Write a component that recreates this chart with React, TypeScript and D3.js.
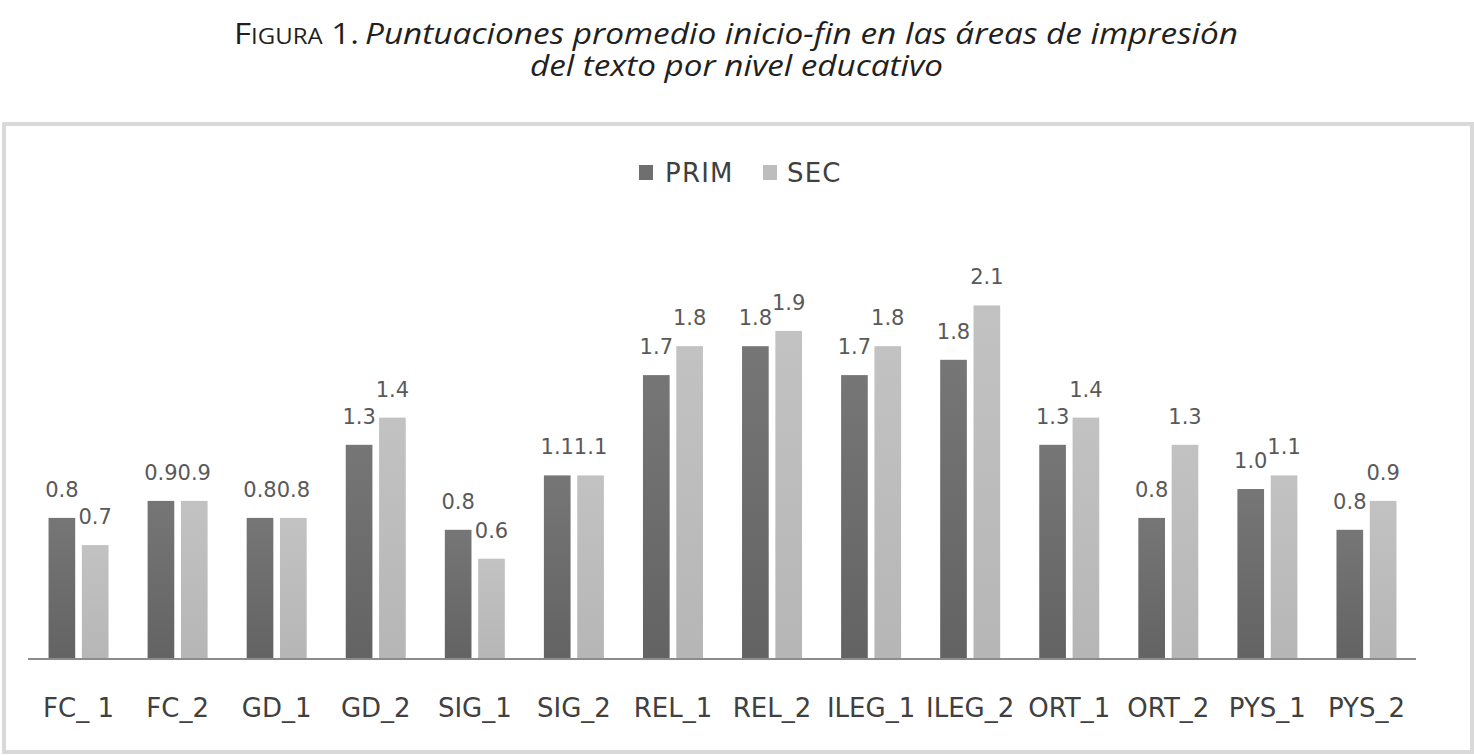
import React from "react";
import * as d3 from "d3";

const categories = ["FC_ 1", "FC_2", "GD_1", "GD_2", "SIG_1", "SIG_2", "REL_1", "REL_2", "ILEG_1", "ILEG_2", "ORT_1", "ORT_2", "PYS_1", "PYS_2"];
const seriesNames = ["PRIM", "SEC"];
const primValues = [0.83, 0.93, 0.83, 1.26, 0.76, 1.08, 1.67, 1.84, 1.67, 1.76, 1.26, 0.83, 1.0, 0.76];
const secValues = [0.67, 0.93, 0.83, 1.42, 0.59, 1.08, 1.84, 1.93, 1.84, 2.08, 1.42, 1.26, 1.08, 0.93];
const seriesColors = ["#6f6f6f", "#bdbdbd"];

const W = 1474;
const H = 755;

export default function App() {
  const x0 = d3.scaleBand<string>().domain(categories).range([29, 1416]);
  const x1 = d3.scaleBand<string>().domain(seriesNames).range([0, 60]).paddingInner(0.2);
  const y = d3.scaleLinear().domain([0, 2.5]).range([659, 234]);
  const fmt = d3.format(".1f");
  const series = [primValues, secValues];
  const chartFont = "'DejaVu Sans', Verdana, sans-serif";
  const titleFont = "'Open Sans', 'Noto Sans', sans-serif";
  const offset = (x0.bandwidth() - 60) / 2;

  return (
    <svg width={W} height={H} style={{ position: "absolute", left: 0, top: 0, background: "#fff" }}>
      <defs>
        <linearGradient id="gPrim" x1="0" y1="0" x2="0" y2="1">
          <stop offset="0" stopColor="#767676" />
          <stop offset="1" stopColor="#636363" />
        </linearGradient>
        <linearGradient id="gSec" x1="0" y1="0" x2="0" y2="1">
          <stop offset="0" stopColor="#c2c2c2" />
          <stop offset="1" stopColor="#b6b6b6" />
        </linearGradient>
      </defs>
      <rect x={0} y={0} width={W} height={H} fill="#fff" />
      {/* Title */}
      <text x={234} y={44} fontFamily={titleFont} fill="#231f20" textLength={125} lengthAdjust="spacingAndGlyphs">
        <tspan fontSize={29}>F</tspan>
        <tspan fontSize={21}>IGURA</tspan>
        <tspan fontSize={29}> 1.</tspan>
      </text>
      <text x={365} y={44} fontFamily={titleFont} fontStyle="italic" fontSize={29} fill="#231f20" textLength={873} lengthAdjust="spacingAndGlyphs">
        Puntuaciones promedio inicio-fin en las áreas de impresión
      </text>
      <text x={530} y={76} fontFamily={titleFont} fontStyle="italic" fontSize={29} fill="#231f20" textLength={413} lengthAdjust="spacingAndGlyphs">
        del texto por nivel educativo
      </text>

      {/* Chart frame */}
      <rect x={4} y={124} width={1468} height={628} fill="#fff" stroke="#d9d9d9" strokeWidth={4} />

      {/* Legend */}
      <g fontFamily={chartFont} fontSize={26} fill="#404040">
        <rect x={639} y={165} width={14} height={15} fill={seriesColors[0]} />
        <text x={665} y={182} letterSpacing={1.2}>PRIM</text>
        <rect x={763} y={165} width={14} height={15} fill={seriesColors[1]} />
        <text x={787} y={182} letterSpacing={1.2}>SEC</text>
      </g>

      {/* Bars */}
      {categories.map((c, i) => (
        <g key={c} transform={`translate(${(x0(c) ?? 0) + offset},0)`}>
          {seriesNames.map((s, j) => {
            const v = series[j][i];
            const bx = x1(s) ?? 0;
            return (
              <g key={s}>
                <rect x={bx} y={y(v)} width={x1.bandwidth()} height={y(0) - y(v)} fill={j === 0 ? "url(#gPrim)" : "url(#gSec)"} />
                <text x={bx + x1.bandwidth() / 2} y={y(v) - 21} textAnchor="middle" fontFamily={chartFont} fontSize={21} fill="#595959">
                  {fmt(v)}
                </text>
              </g>
            );
          })}
        </g>
      ))}

      {/* Baseline */}
      <line x1={28} x2={1416} y1={659} y2={659} stroke="#8c8c8c" strokeWidth={2} />

      {/* Category labels */}
      {categories.map((c) => (
        <text key={c} x={(x0(c) ?? 0) + x0.bandwidth() / 2} y={717} textAnchor="middle" fontFamily={chartFont} fontSize={26} fill="#404040">
          {c}
        </text>
      ))}
    </svg>
  );
}
